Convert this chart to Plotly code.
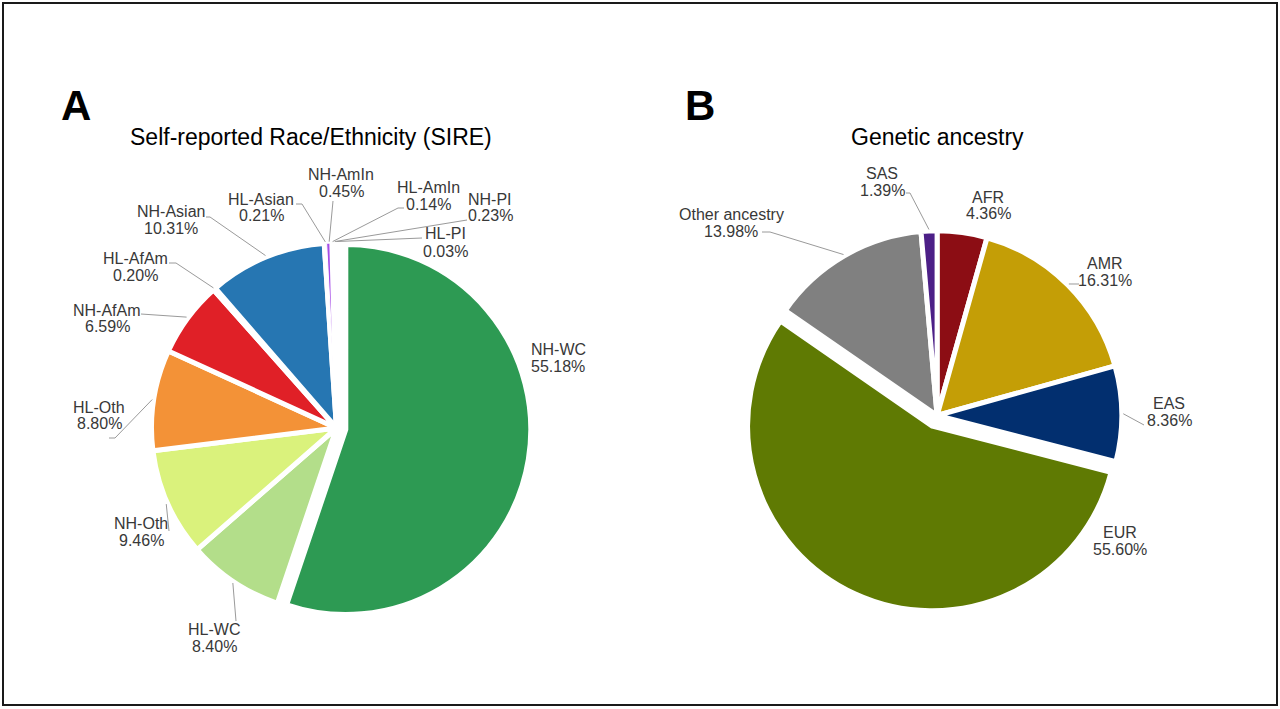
import math
import plotly.graph_objects as go

W, H = 1280, 709

# ---------------- data ----------------
sire_labels = ["NH-WC", "HL-WC", "NH-Oth", "HL-Oth", "NH-AfAm", "HL-AfAm",
               "NH-Asian", "HL-Asian", "NH-AmIn", "HL-AmIn", "NH-PI", "HL-PI"]
sire_values = [55.18, 8.40, 9.46, 8.80, 6.59, 0.20, 10.31, 0.21, 0.45, 0.14, 0.23, 0.03]

anc_labels = ["AFR", "AMR", "EAS", "EUR", "Other ancestry", "SAS"]
anc_values = [4.36, 16.31, 8.36, 55.60, 13.98, 1.39]

# ---------------- styles ----------------
sire_colors = ["#2D9A53", "#B3DE8A", "#DAF27C", "#F39237", "#E02027", "#FB9A99",
               "#2676B2", "#A6CEE3", "#A64DE6", "#CAB2D6", "#FFFF99", "#B15928"]
anc_colors = ["#8C0D14", "#C49E06", "#022F6F", "#5F7A03", "#808080", "#4C1F87"]

sire_pull = {"NH-WC": 0.051}
anc_pull = {"EUR": 0.063}
thin_line = {"NH-AmIn": 1}

FONT = "Liberation Sans, Arial, sans-serif"
LABEL_COLOR = "#383838"
LEADER_COLOR = "#9a9a9a"
LINE_GAP = 17  # pixel distance between name line and percentage line

# pie domains (pixels: centre x, centre y, half size)
SIRE_BOX = (336.5, 428.0, 194.4)
ANC_BOX = (937.1, 415.5, 196.3)
STROKE = 5

# label layout: name centre (pixels) and leader line points after the rim anchor
sire_label_layout = {
    "NH-WC": ((558, 349), []),
    "HL-WC": ((214, 629), [(236, 621)]),
    "NH-Oth": ((141, 523), [(169, 531)]),
    "HL-Oth": ((99, 407), [(115, 438), (109, 438)]),
    "NH-AfAm": ((107, 310), [(141, 314)]),
    "HL-AfAm": ((135, 258), [(176, 263), (169, 263)]),
    "NH-Asian": ((171, 212), [(210, 217), (206, 217)]),
    "HL-Asian": ((261, 199), [(302, 204), (296, 204)]),
    "NH-AmIn": ((341, 174), [(333, 201)]),
    "HL-AmIn": ((428, 187), [(398, 208), (404, 208)]),
    "NH-PI": ((490, 199), [(467, 220)]),
    "HL-PI": ((445, 234), [(422, 238)]),
}
anc_label_layout = {
    "AFR": ((988, 197), []),
    "AMR": ((1105, 263), [(1079, 284)]),
    "EAS": ((1169, 403), [(1144, 425)]),
    "EUR": ((1120, 532), []),
    "Other ancestry": ((731, 215), [(770, 232), (762, 232)]),
    "SAS": ((882, 173), [(910, 193), (906, 193)]),
}


def px(x):
    return x / W


def py(y):
    return 1 - y / H


def domain(box):
    cx, cy, half = box
    return dict(x=[px(cx - half), px(cx + half)], y=[py(cy + half), py(cy - half)])


def make_pie(labels, values, colors, pulls, box):
    pull = [pulls.get(l, 0) for l in labels]
    widths = [thin_line.get(l, STROKE) for l in labels]
    return go.Pie(
        labels=labels, values=values, sort=False, direction="clockwise", rotation=0,
        marker=dict(colors=colors, line=dict(color="white", width=widths)),
        pull=pull, textinfo="none", hoverinfo="label+percent", showlegend=False,
        domain=domain(box),
    )


def anchors(labels, values, pulls, box):
    cx, cy, half = box
    maxpull = max([pulls.get(l, 0) for l in labels] + [0])
    r = half / (1 + maxpull)
    rv = r - STROKE / 2
    total = sum(values)
    cum = 0
    out = {}
    for l, v in zip(labels, values):
        th = 2 * math.pi * (cum + v / 2) / total
        cum += v
        p = pulls.get(l, 0) * r
        ccx = cx + p * math.sin(th)
        ccy = cy - p * math.cos(th)
        rr = rv + 4
        out[l] = (ccx + rr * math.sin(th), ccy - rr * math.cos(th))
    return out


fig = go.Figure()
fig.add_trace(make_pie(sire_labels, sire_values, sire_colors, sire_pull, SIRE_BOX))
fig.add_trace(make_pie(anc_labels, anc_values, anc_colors, anc_pull, ANC_BOX))

shapes = []
annotations = []


def add_labels(labels, values, pulls, box, layout):
    anc = anchors(labels, values, pulls, box)
    for l, v in zip(labels, values):
        (tx, ty), pts = layout[l]
        annotations.append(dict(text=l, x=px(tx), y=py(ty), xref="paper", yref="paper",
                                showarrow=False, xanchor="center", yanchor="middle",
                                font=dict(family=FONT, size=16, color=LABEL_COLOR)))
        annotations.append(dict(text=f"{v:.2f}%", x=px(tx), y=py(ty + LINE_GAP),
                                xref="paper", yref="paper", showarrow=False,
                                xanchor="center", yanchor="middle",
                                font=dict(family=FONT, size=16, color=LABEL_COLOR)))
        if pts:
            seq = [anc[l]] + pts
            for (x0, y0), (x1, y1) in zip(seq[:-1], seq[1:]):
                shapes.append(dict(type="line", xref="paper", yref="paper",
                                   x0=px(x0), y0=py(y0), x1=px(x1), y1=py(y1),
                                   line=dict(color=LEADER_COLOR, width=1)))


add_labels(sire_labels, sire_values, sire_pull, SIRE_BOX, sire_label_layout)
add_labels(anc_labels, anc_values, anc_pull, ANC_BOX, anc_label_layout)

# titles and panel letters
for text, x, y, size, bold in [
    ("Self-reported Race/Ethnicity (SIRE)", 311, 137, 23, False),
    ("Genetic ancestry", 937, 137, 23, False),
    ("A", 76, 105, 42, True),
    ("B", 700, 105, 42, True),
]:
    annotations.append(dict(text=f"<b>{text}</b>" if bold else text, x=px(x), y=py(y),
                            xref="paper", yref="paper", showarrow=False,
                            xanchor="center", yanchor="middle",
                            font=dict(family=FONT, size=size, color="#000000")))

# outer frame
shapes.append(dict(type="rect", xref="paper", yref="paper",
                   x0=px(3), y0=py(705), x1=px(1277), y1=py(3),
                   line=dict(color="#1a1a1a", width=2)))

fig.update_layout(
    width=W, height=H, autosize=False,
    margin=dict(l=0, r=0, t=0, b=0),
    paper_bgcolor="white", plot_bgcolor="white",
    shapes=shapes, annotations=annotations,
    font=dict(family=FONT),
)

fig.write_html(
    "out.html",
    config={"displayModeBar": False},
    post_script="document.body.style.margin='0';document.body.style.padding='0';"
                "document.body.style.overflow='hidden';",
)
